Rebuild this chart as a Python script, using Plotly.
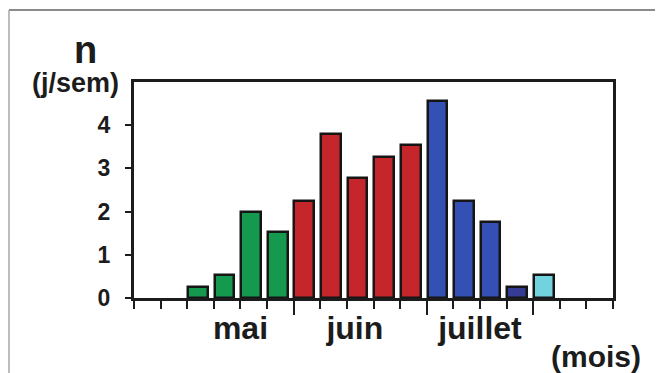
import plotly.graph_objects as go

# weeks counted from the left end of the axis (18 weeks shown)
weeks = list(range(2, 16))
jours_par_semaine = [0.25, 0.53, 2.0, 1.52, 2.25, 3.79, 2.77, 3.27, 3.54,
                     4.56, 2.25, 1.77, 0.25, 0.53]
groupes = ["vert"] * 4 + ["rouge"] * 5 + ["bleu"] * 3 + ["bleu_fonce", "cyan"]

mois = ["mai", "juin", "juillet"]
mois_centres = [4.0, 8.3, 13.0]
limites_mois = [6, 11, 15]

y_ticks = [0, 1, 2, 3, 4]

COULEURS = {
    "vert": "#14994f",
    "rouge": "#c4262b",
    "bleu": "#3550b5",
    "bleu_fonce": "#363b93",
    "cyan": "#72d2de",
}
INK = "#1c1c1c"
FONT = "Liberation Sans"

fig = go.Figure()
fig.add_bar(
    x=weeks,
    y=jours_par_semaine,
    offset=0.03,
    width=0.74,
    marker=dict(
        color=[COULEURS[g] for g in groupes],
        line=dict(color="#151515", width=2.5),
    ),
    xaxis="x",
    showlegend=False,
    hoverinfo="skip",
)
# invisible trace to carry the month labels on an overlaid axis
fig.add_scatter(x=mois_centres, y=[None] * len(mois), xaxis="x2",
                showlegend=False, hoverinfo="skip")

# the page body adds 8px around the figure, so the figure is 8px smaller
fig.update_layout(
    width=655,
    height=365,
    margin=dict(l=126, r=50, t=74, b=75),
    paper_bgcolor="white",
    plot_bgcolor="white",
    font=dict(family=FONT, color=INK),
    bargap=0,
    xaxis=dict(
        range=[0, 18],
        tickmode="array",
        tickvals=limites_mois,
        ticktext=["" for _ in limites_mois],
        ticks="outside",
        ticklen=14,
        tickwidth=2,
        tickcolor=INK,
        minor=dict(dtick=1, tick0=0, ticks="outside", ticklen=8,
                   tickwidth=2, tickcolor=INK),
        showgrid=False,
        zeroline=False,
        showline=True,
        linewidth=3,
        linecolor=INK,
        mirror=True,
        fixedrange=True,
    ),
    xaxis2=dict(
        range=[0, 18],
        overlaying="x",
        anchor="y",
        side="bottom",
        tickmode="array",
        tickvals=mois_centres,
        ticktext=mois,
        ticks="",
        ticklabelstandoff=8,
        tickfont=dict(family=FONT, size=32, color=INK, weight="bold"),
        showgrid=False,
        zeroline=False,
        showline=False,
    ),
    yaxis=dict(
        range=[0, 5],
        tickmode="array",
        tickvals=y_ticks,
        ticks="outside",
        ticklen=6,
        tickwidth=2,
        tickcolor=INK,
        ticklabelstandoff=10,
        tickfont=dict(family=FONT, size=23, color=INK, weight="bold"),
        showgrid=False,
        zeroline=False,
        showline=True,
        linewidth=3,
        linecolor=INK,
        mirror=True,
        fixedrange=True,
    ),
)

fig.add_annotation(text="n", xref="paper", yref="paper", x=-0.101, y=1.15,
                   showarrow=False, xanchor="center", yanchor="middle",
                   font=dict(family=FONT, size=38, color=INK, weight="bold"))
fig.add_annotation(text="(j/sem)", xref="paper", yref="paper", x=-0.123,
                   y=0.995, showarrow=False, xanchor="center",
                   yanchor="middle",
                   font=dict(family=FONT, size=27, color=INK, weight="bold"))
fig.add_annotation(text="(mois)", xref="paper", yref="paper", x=0.965,
                   y=-0.269, showarrow=False, xanchor="center",
                   yanchor="middle",
                   font=dict(family=FONT, size=30, color=INK, weight="bold"))

# grey frame of the scanned figure
fig.add_shape(type="line", xref="paper", yref="paper", x0=-0.261, x1=1.11,
              y0=1.333, y1=1.333, line=dict(color="#8a8a8a", width=2))
fig.add_shape(type="line", xref="paper", yref="paper", x0=-0.261, x1=-0.261,
              y0=1.333, y1=-0.36, line=dict(color="#a8a8a8", width=1.5))

fig.write_html("out.html")
